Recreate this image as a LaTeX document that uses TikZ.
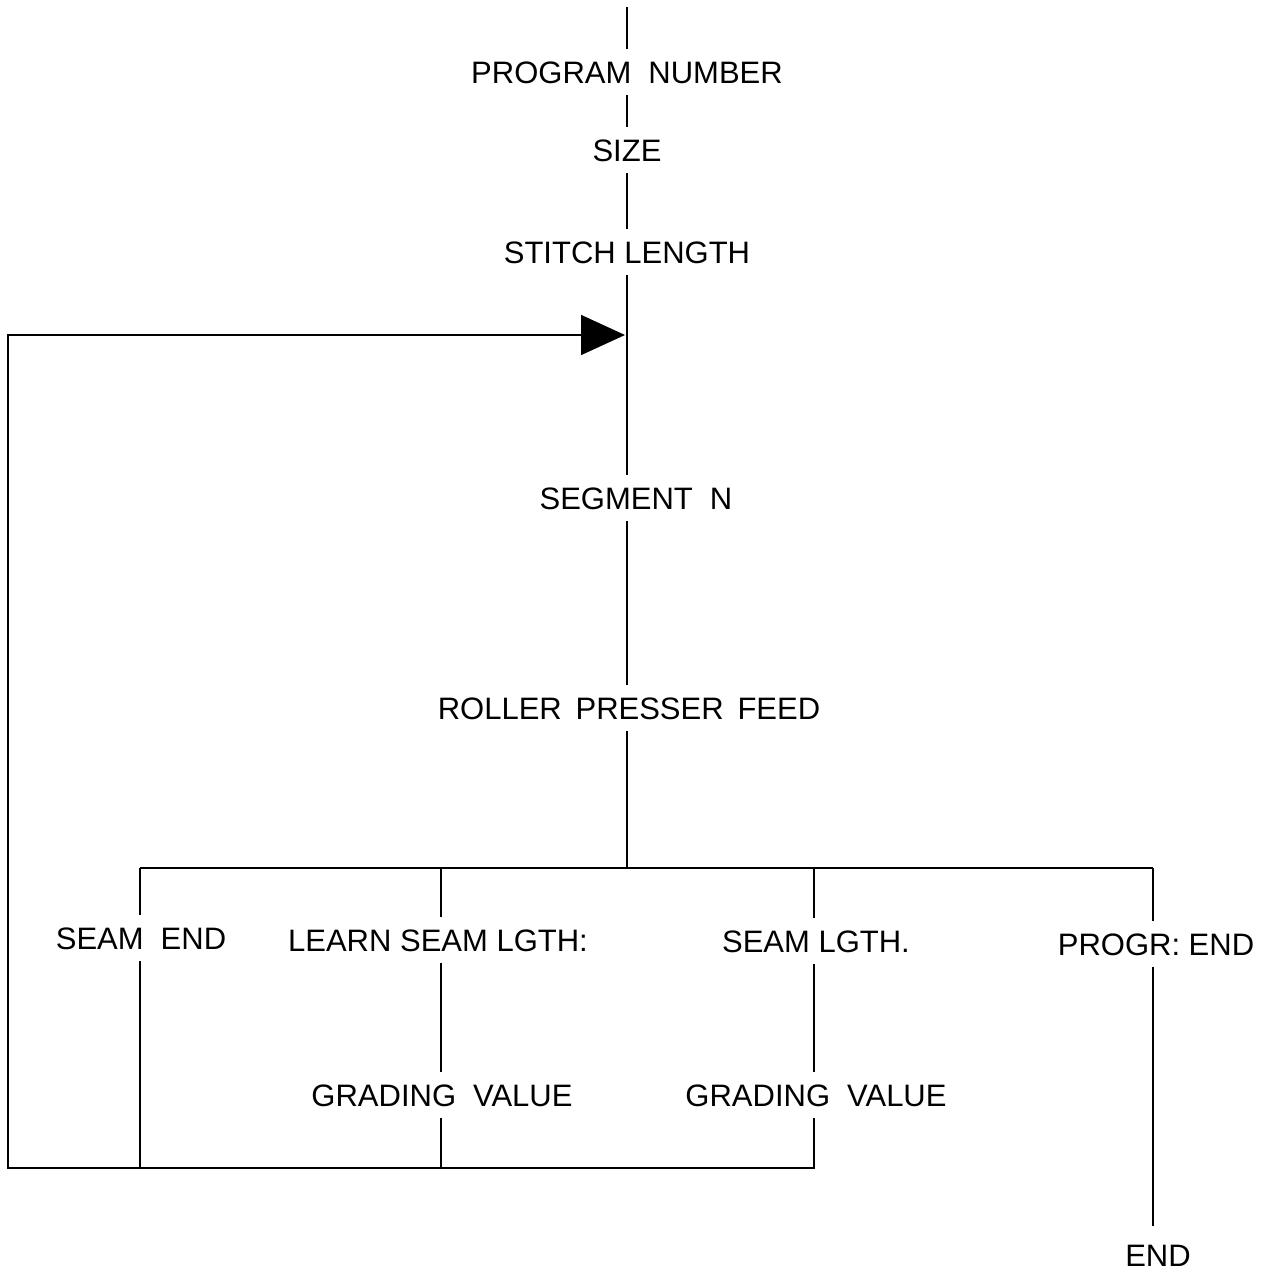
\documentclass[tikz,border=0pt]{standalone}
\usepackage{fontspec}
\setmainfont{Liberation Sans}
\usetikzlibrary{arrows.meta, positioning}
\newcommand{\wsp}{\hspace{0.55em}}

\tikzset{
  lbl/.style={inner xsep=4pt, inner ysep=12pt, text height=22pt, text depth=0pt,
    font=\fontsize{31}{36}\selectfont},
  wire/.style={line width=1.6pt},
}

\begin{document}
\begin{tikzpicture}[x=1pt, y=-1pt]
  \useasboundingbox (0,0) rectangle (1266,1275);

  % main column
  \node[lbl] (prog)   at (627,72)  {PROGRAM\wsp NUMBER};
  \node[lbl] (size)   at (627,150) {SIZE};
  \node[lbl] (stitch) at (627,252) {STITCH LENGTH};
  \node[lbl] (seg)    at (636,498) {SEGMENT\wsp N};
  \node[lbl] (roller) at (629,708) {ROLLER\, PRESSER\, FEED};

  % branches
  \node[lbl] (seamend) at (141,938)  {SEAM\wsp END};
  \node[lbl] (learn)   at (438,940)  {LEARN SEAM LGTH:};
  \node[lbl] (seamlg)  at (816,941)  {SEAM LGTH.};
  \node[lbl] (progend) at (1156,944) {PROGR: END};
  \node[lbl] (grad1)   at (442,1095) {GRADING\wsp VALUE};
  \node[lbl] (grad2)   at (816,1095) {GRADING\wsp VALUE};
  \node[lbl] (end)     at (1158,1255) {END};

  \coordinate (top) at (627,7);
  \coordinate (bmain) at (627,868);
  \coordinate (b1) at (140,868);
  \coordinate (b2) at (441,868);
  \coordinate (b3) at (814,868);
  \coordinate (b4) at (1153,868);
  \coordinate (bl) at (8,1168);
  \coordinate (ll) at (8,335);
  \coordinate (ret) at (625,335);

  \draw[wire] (top) -- (prog.north);
  \draw[wire] (prog.south) -- (size.north);
  \draw[wire] (size.south) -- (stitch.north);
  \draw[wire] (stitch.south) -- (top |- seg.north);
  \draw[wire] (top |- seg.south) -- (top |- roller.north);
  \draw[wire] (top |- roller.south) -- (bmain);

  % bus
  \draw[wire] (b1) -- (b4);
  \draw[wire] (b1) -- (b1 |- seamend.north);
  \draw[wire] (b1 |- seamend.south) -- (b1 |- bl);
  \draw[wire] (b2) -- (b2 |- learn.north);
  \draw[wire] (b2 |- learn.south) -- (b2 |- grad1.north);
  \draw[wire] (b2 |- grad1.south) -- (b2 |- bl);
  \draw[wire] (b3) -- (b3 |- seamlg.north);
  \draw[wire] (b3 |- seamlg.south) -- (b3 |- grad2.north);
  \draw[wire] (b4) -- (b4 |- progend.north);
  \draw[wire] (b4 |- progend.south) -- ([yshift=6pt]b4 |- end.north);

  % loop back
  \draw[wire, -{Triangle[length=44pt, width=40pt]}]
    (b3 |- grad2.south) |- (bl) -- (ll) -- (ret);
\end{tikzpicture}
\end{document}
